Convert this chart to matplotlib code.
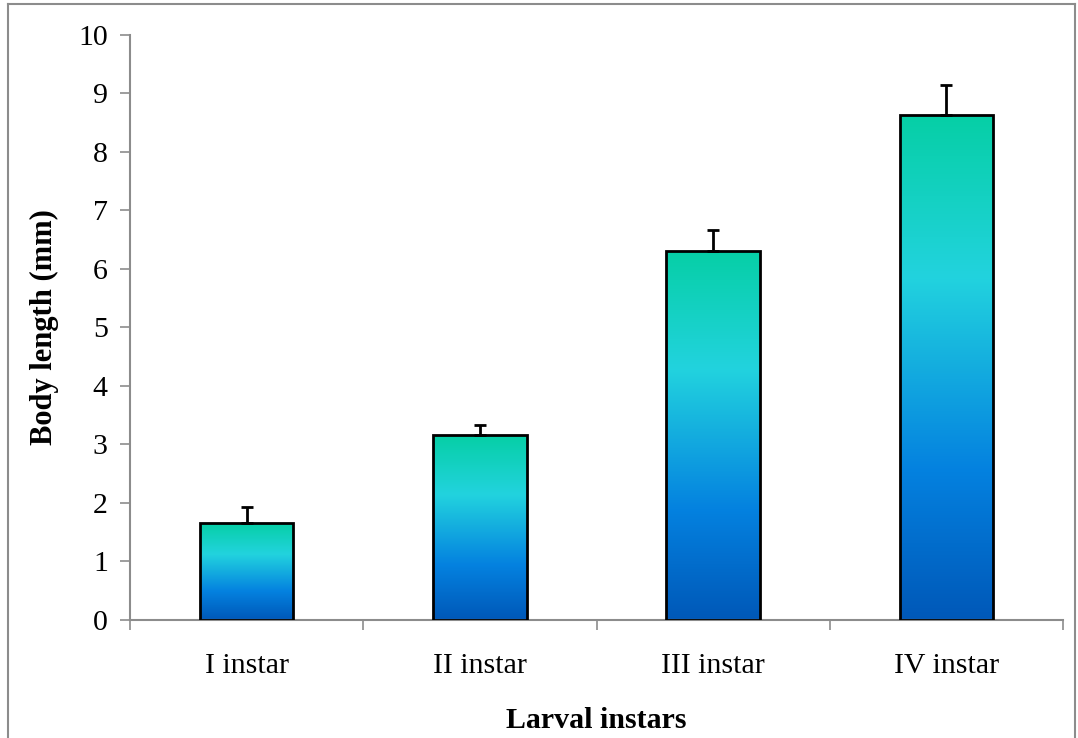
import numpy as np
import matplotlib.pyplot as plt
from matplotlib.colors import LinearSegmentedColormap
from matplotlib.lines import Line2D

plt.rcParams['font.family'] = ['Liberation Serif', 'DejaVu Serif']

categories = ["I instar", "II instar", "III instar", "IV instar"]
body_length = [1.65, 3.16, 6.31, 8.63]
error = [0.28, 0.18, 0.36, 0.52]

# gradient used inside each bar: dark blue at bottom, cyan, teal-green on top
grad_cmap = LinearSegmentedColormap.from_list(
    "bar_grad",
    [(0.0, "#0058b8"), (0.3, "#0482e0"), (0.68, "#22d3de"), (1.0, "#06cfa6")]
)

fig = plt.figure(figsize=(10.78, 7.38), dpi=100)
ax = fig.add_axes([0.1206, 0.160, 0.8655, 0.7926])

x = np.arange(len(categories))
width = 0.4

bars = ax.bar(x, body_length, width=width, color="none",
              edgecolor="black", linewidth=2, zorder=3)

grad = np.linspace(0, 1, 256).reshape(-1, 1)
for b in bars:
    x0, y0 = b.get_x(), b.get_y()
    w, h = b.get_width(), b.get_height()
    im = ax.imshow(grad, cmap=grad_cmap, origin="lower", aspect="auto",
                   extent=[x0, x0 + w, y0, y0 + h], zorder=2)
    im.set_clip_path(b)

ax.errorbar(x, body_length, yerr=[np.zeros(len(error)), error], fmt="none",
            ecolor="black", elinewidth=2, capsize=4.5, capthick=2, zorder=4)

ax.set_xlim(-0.5, len(categories) - 0.5)
ax.set_ylim(0, 10)
ax.set_yticks(range(0, 11))

ax.set_xticks(x)
ax.set_xticklabels(categories)
ax.set_xticks(np.arange(-0.5, len(categories)), minor=True)
ax.tick_params(axis="x", which="major", length=0, pad=24, labelsize=21.5)
ax.tick_params(axis="x", which="minor", length=7, width=1.2, color="#8c8c8c",
               direction="out")
ax.tick_params(axis="y", length=7, width=1.2, color="#8c8c8c",
               direction="out", labelsize=21.5, pad=9)

for side in ["top", "right"]:
    ax.spines[side].set_visible(False)
for side in ["left", "bottom"]:
    ax.spines[side].set_color("#8c8c8c")
    ax.spines[side].set_linewidth(1.5)

ax.set_xlabel("Larval instars", fontsize=21.5, fontweight="bold", labelpad=20)
ax.set_ylabel("Body length (mm)", fontsize=22, fontweight="bold", labelpad=14)

# outer chart border
bx0, bx1, by1 = 8 / 1078, 1075 / 1078, 1 - 4 / 738
for xs, ys in [([bx0, bx0], [-0.1, by1]), ([bx0, bx1], [by1, by1]),
               ([bx1, bx1], [by1, -0.1])]:
    fig.add_artist(Line2D(xs, ys, color="#8c8c8c", linewidth=1.5,
                          transform=fig.transFigure))

fig.savefig("out.png", dpi=100)
